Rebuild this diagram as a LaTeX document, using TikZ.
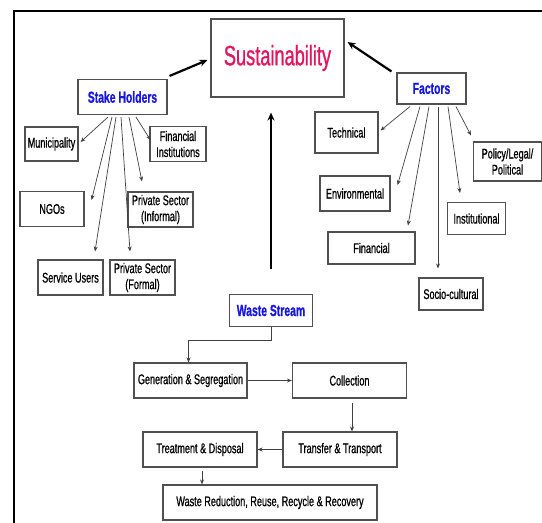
\documentclass[tikz,border=0pt]{standalone}
\usepackage{xcolor}
\usepackage{fontspec}
\setmainfont{Liberation Sans}[FakeStretch=0.65,RawFeature={embolden=0.8}]
\usepackage{tikz}
\usetikzlibrary{calc}
\usetikzlibrary{arrows.meta}
\definecolor{sustred}{RGB}{228,20,92}
\definecolor{headblue}{RGB}{24,24,224}
\definecolor{boxline}{RGB}{80,80,80}
\begin{document}
\begin{tikzpicture}[x=1pt,y=-1pt,
    box/.style={draw=boxline,line width=1.1pt,fill=white,inner sep=0pt,align=center,
      font=\fontsize{14}{16}\selectfont},
    head/.style={box,text=headblue,font=\fontsize{16}{18}\selectfont\bfseries},
    spoke/.style={draw=black!75,line width=0.7pt,-{Stealth[length=5pt,width=4pt]}},
    flow/.style={draw=black!75,line width=0.9pt,-{Stealth[length=5pt,width=4pt]}},
    bigarrow/.style={draw=black,line width=2.2pt,-{Stealth[length=8pt,width=7pt]}}]
      \useasboundingbox (0,0) rectangle (542,523);
      \draw[line width=2pt] (542,11) -- (14,11) -- (14,523);

      \node[box,minimum width=133pt,minimum height=78pt,text=sustred,
        font=\fontsize{28}{30}\selectfont] (sus) at (277.5,58) {Sustainability};
      \node[head,minimum width=89pt,minimum height=35pt] (sh) at (122.5,97) {Stake Holders};
      \node[head,minimum width=69pt,minimum height=31pt] (fac) at (431.5,88.5) {Factors};

      \node[box,minimum width=53pt,minimum height=34pt] (muni) at (51.5,144) {Municipality};
      \node[box,minimum width=56pt,minimum height=35pt] (fininst) at (178,144) {Financial\\Institutions};
      \node[box,minimum width=64pt,minimum height=35pt] (ngo) at (52,209) {NGOs};
      \node[box,minimum width=65pt,minimum height=35pt] (psinf) at (160.5,209.5) {Private Sector\\(Informal)};
      \node[box,minimum width=65pt,minimum height=35pt] (users) at (70.5,277.5) {Service Users};
      \node[box,minimum width=65pt,minimum height=35pt] (psfor) at (142.5,277.5) {Private Sector\\(Formal)};

      \node[box,minimum width=63pt,minimum height=41pt] (tech) at (346.5,132.5) {Technical};
      \node[box,minimum width=68pt,minimum height=39pt] (policy) at (507.5,161.5) {Policy/Legal/\\Political};
      \node[box,minimum width=70pt,minimum height=35pt] (env) at (355,193.5) {Environmental};
      \node[box,minimum width=58pt,minimum height=32pt] (inst) at (476.5,218.5) {Institutional};
      \node[box,minimum width=87pt,minimum height=32pt] (finl) at (371.5,248) {Financial};
      \node[box,minimum width=64pt,minimum height=32pt] (socio) at (451,294) {Socio-cultural};

      \node[head,minimum width=83pt,minimum height=32pt] (ws) at (271,310.5) {Waste Stream};
      \node[box,minimum width=113pt,minimum height=35pt] (gen) at (190.5,380.5) {Generation \& Segregation};
      \node[box,minimum width=114pt,minimum height=35pt] (coll) at (349.5,380.5) {Collection};
      \node[box,minimum width=114pt,minimum height=35pt] (treat) at (200,449.5) {Treatment \& Disposal};
      \node[box,minimum width=114pt,minimum height=35pt] (trans) at (340,449.5) {Transfer \& Transport};
      \node[box,minimum width=214pt,minimum height=35pt] (reduce) at (270,502.5) {Waste Reduction, Reuse, Recycle \& Recovery};

      \draw[bigarrow] ([xshift=2pt,yshift=3pt]sh.north east) -- ([xshift=-3pt,yshift=-2pt]sus.west);
      \draw[bigarrow] ([xshift=-5pt,yshift=1pt]fac.north west) -- ([xshift=3pt,yshift=16pt]sus.east);
      \draw[bigarrow] ([yshift=25pt]ws.north) -- ([yshift=-15pt]ws.north |- sus.south);

      \draw[spoke] ([xshift=-14.5pt,yshift=-2pt]sh.south) -- ([xshift=2pt,yshift=2pt]muni.east);
      \draw[spoke] ([xshift=-10.5pt,yshift=-2pt]sh.south) -- ([xshift=7pt,yshift=9pt]ngo.east);
      \draw[spoke] ([xshift=-6.5pt,yshift=-2pt]sh.south) -- ([xshift=24.5pt,yshift=8pt]users.north);
      \draw[spoke] ([xshift=-1.5pt,yshift=-2pt]sh.south) -- ([xshift=-12.5pt,yshift=8pt]psfor.north);
      \draw[spoke] ([xshift=6.5pt,yshift=-2pt]sh.south) -- ([xshift=-18.5pt,yshift=10pt]psinf.north);
      \draw[spoke] ([xshift=13.5pt,yshift=-2pt]sh.south) -- ([xshift=1pt,yshift=4pt]fininst.west);

      \draw[spoke] ([xshift=-21.5pt,yshift=-2pt]fac.south) -- ([xshift=2pt,yshift=2pt]tech.east);
      \draw[spoke] ([xshift=-11.5pt,yshift=-2pt]fac.south) -- ([xshift=7pt,yshift=8.5pt]env.east);
      \draw[spoke] ([xshift=-2.5pt,yshift=-2pt]fac.south) -- ([xshift=36.5pt,yshift=6pt]finl.north);
      \draw[spoke] ([xshift=6.5pt,yshift=-2pt]fac.south) -- ([xshift=-13pt,yshift=9pt]socio.north);
      \draw[spoke] ([xshift=16.5pt,yshift=-2pt]fac.south) -- ([xshift=-16.5pt,yshift=9pt]inst.north);
      \draw[spoke] ([xshift=24.5pt,yshift=-2pt]fac.south) -- ([xshift=-36.5pt,yshift=6pt]policy.north);

      \draw[flow] (ws.south) -- ++(0,13) -| ([xshift=-2pt]gen.north);
      \draw[flow] (gen.east) -- (coll.west);
      \draw[flow] ([xshift=2.5pt,yshift=-4pt]coll.south) -- ([xshift=2.5pt]coll.south |- trans.north);
      \draw[flow] (trans.west) -- (treat.east);
      \draw[flow] ([xshift=2pt,yshift=-3pt]treat.south) -- ([xshift=2pt]treat.south |- reduce.north);
    \end{tikzpicture}
\end{document}
